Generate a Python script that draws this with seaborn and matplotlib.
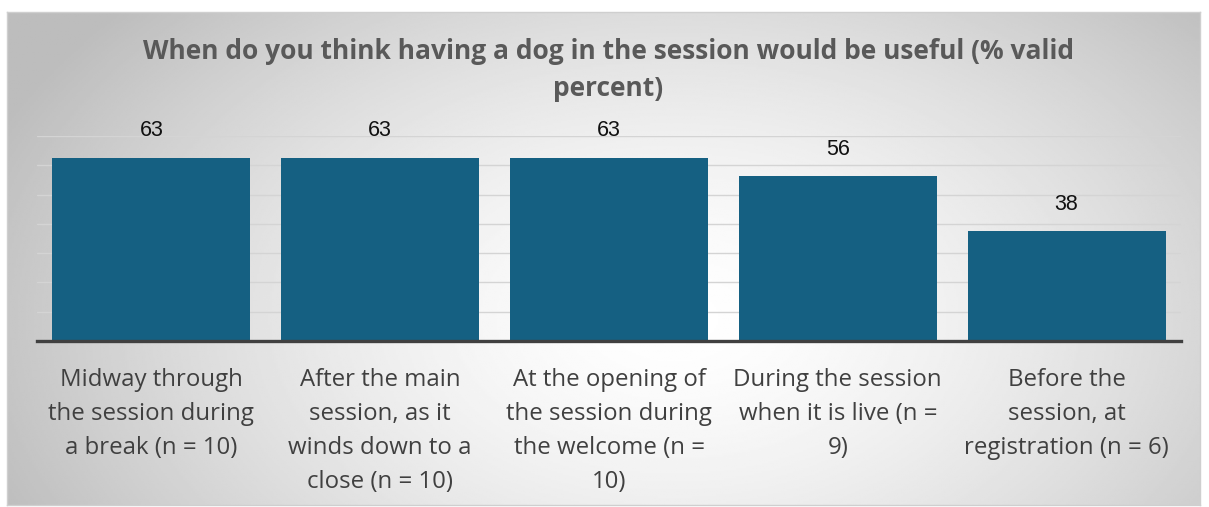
import numpy as np
import pandas as pd
import matplotlib.pyplot as plt
import seaborn as sns

categories = [
    "Midway through\nthe session during\na break (n = 10)",
    "After the main\nsession, as it\nwinds down to a\nclose (n = 10)",
    "At the opening of\nthe session during\nthe welcome (n =\n10)",
    "During the session\nwhen it is live (n =\n9)",
    "Before the\nsession, at\nregistration (n = 6)",
]
values = [62.5, 62.5, 62.5, 56.25, 37.5]
value_labels = ["63", "63", "63", "56", "38"]
title = "When do you think having a dog in the session would be useful (% valid\npercent)"

sns.set_theme(style="white")
plt.rcParams["font.family"] = ["Open Sans", "DejaVu Sans"]

fig = plt.figure(figsize=(12.09, 5.07), dpi=100)

# radial grey gradient background inside the chart frame
bg = fig.add_axes([7 / 1209, 2 / 507, 1193 / 1209, 493 / 507])
gx, gy = np.meshgrid(np.linspace(0, 1, 600), np.linspace(0, 1, 300))
r = np.sqrt(((gx - 0.56) / 0.62) ** 2 + ((gy - 0.62) / 0.95) ** 2)
shade = 1.0 - 0.26 * np.clip(r, 0, 1) ** 1.5
bg.imshow(shade, cmap="gray", vmin=0, vmax=1, aspect="auto",
          extent=[0, 1, 0, 1], origin="upper")
bg.set_xticks([])
bg.set_yticks([])
for s in bg.spines.values():
    s.set_color("#cfcfcf")
    s.set_linewidth(1.0)

ax = fig.add_axes([37 / 1209, 166 / 507, 1144 / 1209, 205 / 507])
ax.patch.set_alpha(0)
df = pd.DataFrame({"cat": categories, "val": values})
sns.barplot(data=df, x="cat", y="val", color="#156082", saturation=1,
            width=0.865, linewidth=0, ax=ax, zorder=3)

ax.set_ylim(0, 70)
ax.set_xlim(-0.5, 4.5)
ax.set_yticks(np.arange(10, 71, 10))
ax.yaxis.grid(True, color="#d4d4d4", linewidth=1.0, zorder=0)
ax.set_yticklabels([])
ax.tick_params(axis="y", length=0)
ax.tick_params(axis="x", length=0, pad=19.5, labelsize=17.3, labelcolor="#404040")
for lbl in ax.get_xticklabels():
    lbl.set_linespacing(1.56)
ax.set_xlabel("")
ax.set_ylabel("")
for side in ["top", "right", "left"]:
    ax.spines[side].set_visible(False)
ax.spines["bottom"].set_color("#404040")
ax.spines["bottom"].set_linewidth(2.4)
ax.spines["bottom"].set_zorder(4)

for i, (v, t) in enumerate(zip(values, value_labels)):
    ax.annotate(t, (i, v), xytext=(0, 12), textcoords="offset points",
                ha="center", va="bottom", fontsize=15.5,
                family=["Liberation Sans", "DejaVu Sans"], color="#111111")

fig.text(0.503, 0.925, title, ha="center", va="top", fontsize=19,
         fontweight="bold", color="#595959", linespacing=1.48)

fig.savefig("out.png", dpi=100)
